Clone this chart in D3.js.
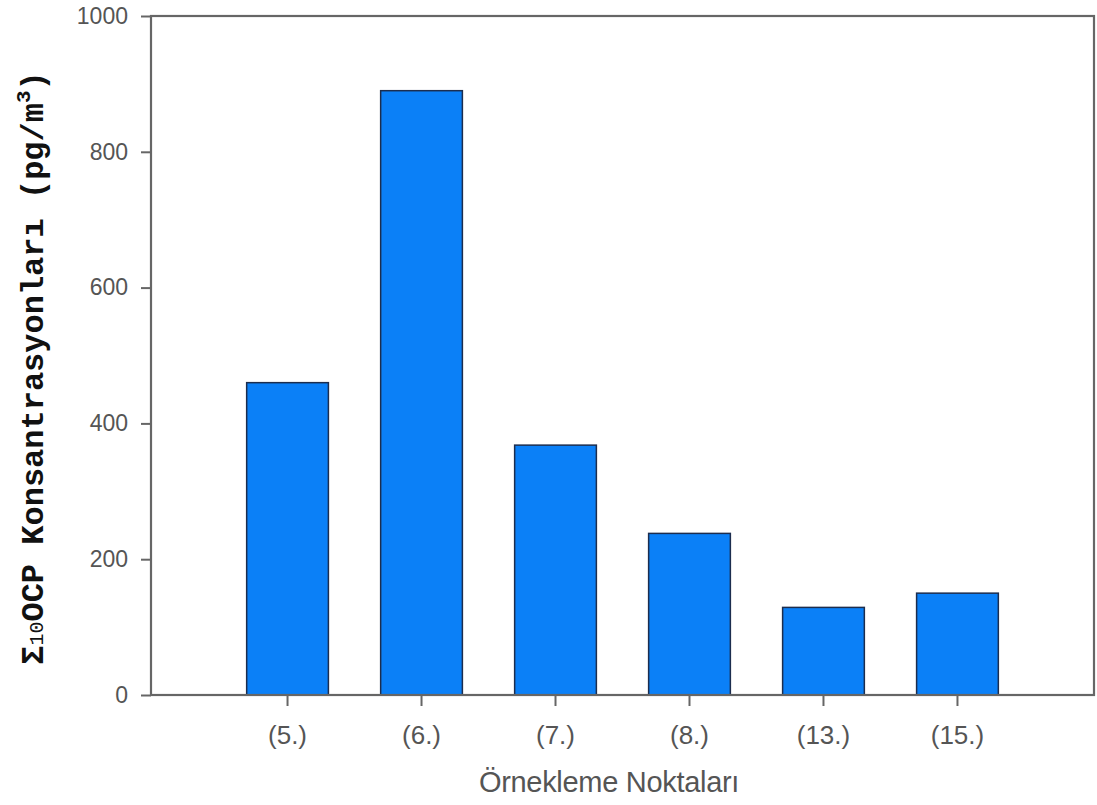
<!DOCTYPE html>
<html>
<head>
<meta charset="utf-8">
<script src="https://cdn.jsdelivr.net/npm/d3@7"></script>
<style>
  html, body { margin: 0; padding: 0; background: #fff; }
  svg { display: block; }
</style>
</head>
<body>
<svg id="chart" width="1097" height="805"></svg>
<script>
// Sampling points and their total OCP concentrations (pg/m3)
const categories = ["(5.)", "(6.)", "(7.)", "(8.)", "(13.)", "(15.)"];
const values = [460, 890, 368, 238, 129, 150];
const yTicks = [0, 200, 400, 600, 800, 1000];

const svg = d3.select("#chart");
const plotLeft = 151, plotRight = 1094, plotTop = 16, plotBottom = 695;

const x = d3.scaleBand()
  .domain(categories)
  .range([plotLeft, plotRight])
  .paddingInner(0.39)
  .paddingOuter(0.714);

const y = d3.scaleLinear().domain([0, 1000]).range([plotBottom, plotTop]);

const axisColor = "#666";
const labelColor = "#555";

// Bars
svg.append("g")
  .selectAll("rect")
  .data(values)
  .join("rect")
  .attr("x", (d, i) => x(categories[i]))
  .attr("y", d => y(d))
  .attr("width", x.bandwidth())
  .attr("height", d => y(0) - y(d))
  .attr("fill", "#0b80f7")
  .attr("stroke", "#1c2d4e")
  .attr("stroke-width", 1.5);

// Frame around the plot area
svg.append("rect")
  .attr("x", plotLeft).attr("y", plotTop)
  .attr("width", plotRight - plotLeft).attr("height", plotBottom - plotTop)
  .attr("fill", "none")
  .attr("stroke", axisColor)
  .attr("stroke-width", 2.2);

// Y axis
const yAxis = svg.append("g")
  .attr("transform", `translate(${plotLeft},0)`)
  .call(d3.axisLeft(y).tickValues(yTicks).tickSize(10).tickPadding(13).tickFormat(d3.format("d")));
yAxis.select(".domain").remove();
yAxis.selectAll(".tick line").attr("stroke", axisColor).attr("stroke-width", 2);
yAxis.selectAll(".tick text")
  .attr("fill", labelColor)
  .style("font-family", "Liberation Sans, Arial, sans-serif")
  .style("font-size", "23px");

// X axis
const xAxis = svg.append("g")
  .attr("transform", `translate(0,${plotBottom})`)
  .call(d3.axisBottom(x).tickSize(11).tickPadding(20));
xAxis.select(".domain").remove();
xAxis.selectAll(".tick line").attr("stroke", axisColor).attr("stroke-width", 2);
xAxis.selectAll(".tick text")
  .attr("fill", labelColor)
  .style("font-family", "Liberation Sans, Arial, sans-serif")
  .style("font-size", "26px");

// X axis title
svg.append("text")
  .attr("x", 609).attr("y", 792)
  .attr("text-anchor", "middle")
  .attr("fill", labelColor)
  .style("font-family", "Liberation Sans, Arial, sans-serif")
  .style("font-size", "29px")
  .style("letter-spacing", "-0.3px")
  .text("Örnekleme Noktaları");

// Y axis title
const yt = svg.append("text")
  .attr("transform", `translate(43,368) rotate(-90)`)
  .attr("text-anchor", "middle")
  .attr("fill", "#111")
  .style("font-family", "Liberation Mono, Courier New, monospace")
  .style("font-weight", "bold")
  .style("font-size", "32px");
yt.append("tspan").text("Σ");
yt.append("tspan").attr("font-size", "20px").attr("font-weight", "normal").text("10");
yt.append("tspan").text("OCP Konsantrasyonları (pg/m");
yt.append("tspan").attr("font-size", "21px").attr("dy", "-13").text("3");
yt.append("tspan").attr("dy", "13").text(")");
</script>
</body>
</html>
